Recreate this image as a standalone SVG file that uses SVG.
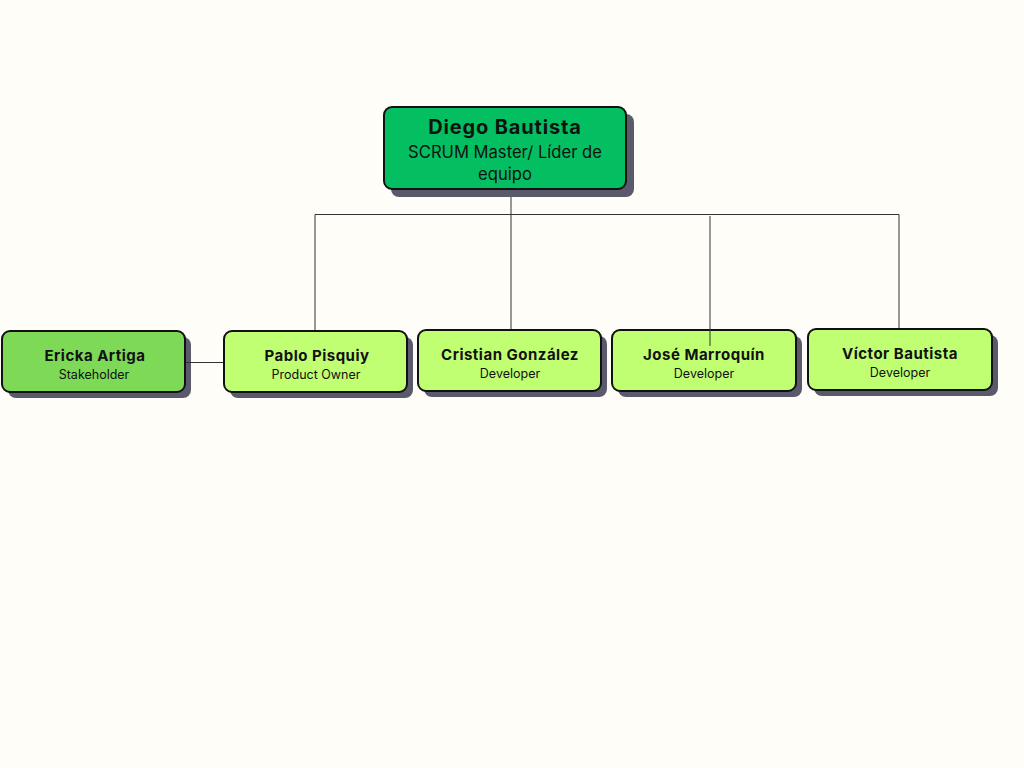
<svg xmlns="http://www.w3.org/2000/svg" width="1024" height="768" viewBox="0 0 1024 768">
<style>
.sh{fill:#5b5a6d}
.bx{stroke:#111;stroke-width:2}
.lt{fill:#c1ff72}
.t{font-family:Inter,"Noto Sans",sans-serif;fill:#111;text-anchor:middle}
.n{font-weight:700;font-size:15px;letter-spacing:0.5px}
.r{font-size:12.5px}
.ln{stroke:#333;stroke-width:1;fill:none}
</style>
<rect width="1024" height="768" fill="#fffdf8"/>
<g id="diego">
<rect class="sh" x="391" y="114" width="243" height="83" rx="8"/>
<rect class="bx" x="384" y="107" width="242" height="82" rx="8" fill="#03bf62"/>
<text class="t" x="505" y="134" font-weight="700" font-size="20" letter-spacing="0.85">Diego Bautista</text>
<text class="t" x="505" y="158" font-size="16.6">SCRUM Master/ Líder de</text>
<text class="t" x="505" y="180" font-size="16.6">equipo</text>
</g>
<g id="ericka">
<rect class="sh" x="8" y="337" width="183" height="61" rx="8"/>
<rect class="bx" x="2" y="331" width="183" height="61" rx="8" fill="#7ed957"/>
<text class="t n" x="95" y="361">Ericka Artiga</text>
<text class="t r" x="94" y="379">Stakeholder</text>
</g>
<g id="pablo">
<rect class="sh" x="230" y="337" width="183" height="61" rx="8"/>
<rect class="bx lt" x="224" y="331" width="183" height="61" rx="8"/>
<text class="t n" x="317" y="361">Pablo Pisquiy</text>
<text class="t r" x="316" y="379">Product Owner</text>
</g>
<g id="cristian">
<rect class="sh" x="424" y="336" width="183" height="61" rx="8"/>
<rect class="bx lt" x="418" y="330" width="183" height="61" rx="8"/>
<text class="t n" x="510" y="360">Cristian González</text>
<text class="t r" x="510" y="378">Developer</text>
</g>
<g id="jose">
<rect class="sh" x="618" y="336" width="184" height="61" rx="8"/>
<rect class="bx lt" x="612" y="330" width="184" height="61" rx="8"/>
<text class="t n" x="704" y="360">José Marroquín</text>
<text class="t r" x="704" y="378">Developer</text>
</g>
<g id="victor">
<rect class="sh" x="814" y="335" width="184" height="61" rx="8"/>
<rect class="bx lt" x="808" y="329" width="184" height="61" rx="8"/>
<text class="t n" x="900" y="359">Víctor Bautista</text>
<text class="t r" x="900" y="377">Developer</text>
</g>
<g id="connectors">
<path class="ln" d="M511 197V329"/>
<path class="ln" d="M315 330V214.5H899V328"/>
<path class="ln" d="M710 216V346"/>
<path class="ln" d="M186 362.5H223"/>
</g>
</svg>
